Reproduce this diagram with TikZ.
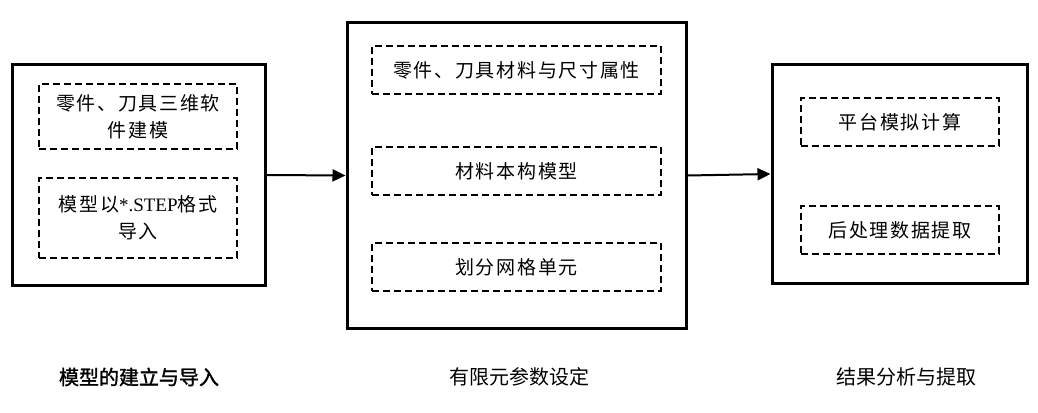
\documentclass[tikz,border=0pt]{standalone}
\usepackage{fontspec}
\setmainfont{Liberation Serif}
\newfontfamily\cjk[LetterSpace=9]{Noto Sans CJK SC}
\newfontfamily\cjklab{Noto Sans CJK SC}
\newfontfamily\cjklabb[FakeBold=1.5]{Noto Sans CJK SC}
\usetikzlibrary{arrows.meta}
\begin{document}
\begin{tikzpicture}[x=1pt,y=-1pt,
  outerbox/.style={draw=black,line width=3pt,rectangle,inner sep=0pt},
  dashbox/.style={draw=black,line width=1.8pt,dash pattern=on 7pt off 4pt,rectangle,inner sep=0pt,
     align=center,font=\cjk\fontsize{19}{27}\selectfont},
  lab/.style={font=\cjklab\fontsize{20}{24}\selectfont,inner sep=0pt},
  labb/.style={font=\cjklabb\fontsize{20}{24}\selectfont,inner sep=0pt},
  conn/.style={line width=2pt,-{Triangle[length=13pt,width=12pt]}}]
\useasboundingbox (0,0) rectangle (1038,412);
% left group
\node[outerbox,minimum width=253pt,minimum height=220pt] (L) at (138.5,175) {};
\node[dashbox,minimum width=198pt,minimum height=65pt] (L1) at (138,116.5) {零件、刀具三维软\\件建模};
\node[dashbox,minimum width=198pt,minimum height=80pt] (L2) at (138,218) {模型以{\rmfamily\fontsize{19}{27}\selectfont *.STEP}格式\\导入};
% middle group
\node[outerbox,minimum width=339pt,minimum height=305pt] (M) at (516.5,175.5) {};
\node[dashbox,minimum width=289pt,minimum height=48pt] (M1) at (516.5,70) {零件、刀具材料与尺寸属性};
\node[dashbox,minimum width=289pt,minimum height=48pt] (M2) at (516.5,171) {材料本构模型};
\node[dashbox,minimum width=289pt,minimum height=48pt] (M3) at (516.5,267) {划分网格单元};
% right group
\node[outerbox,minimum width=255pt,minimum height=218pt] (R) at (899.5,174) {};
\node[dashbox,minimum width=198pt,minimum height=48pt] (R1) at (900,122) {平台模拟计算};
\node[dashbox,minimum width=198pt,minimum height=48pt] (R2) at (900,230) {后处理数据提取};
% connectors
\draw[conn] (L.east) -- (M.west);
\draw[conn] (M.east) -- (R.west);
% labels
\node[labb] (TL) at (139,377) {模型的建立与导入};
\node[lab] (TM) at (519,377) {有限元参数设定};
\node[lab] (TR) at (906,377) {结果分析与提取};
\end{tikzpicture}
\end{document}
